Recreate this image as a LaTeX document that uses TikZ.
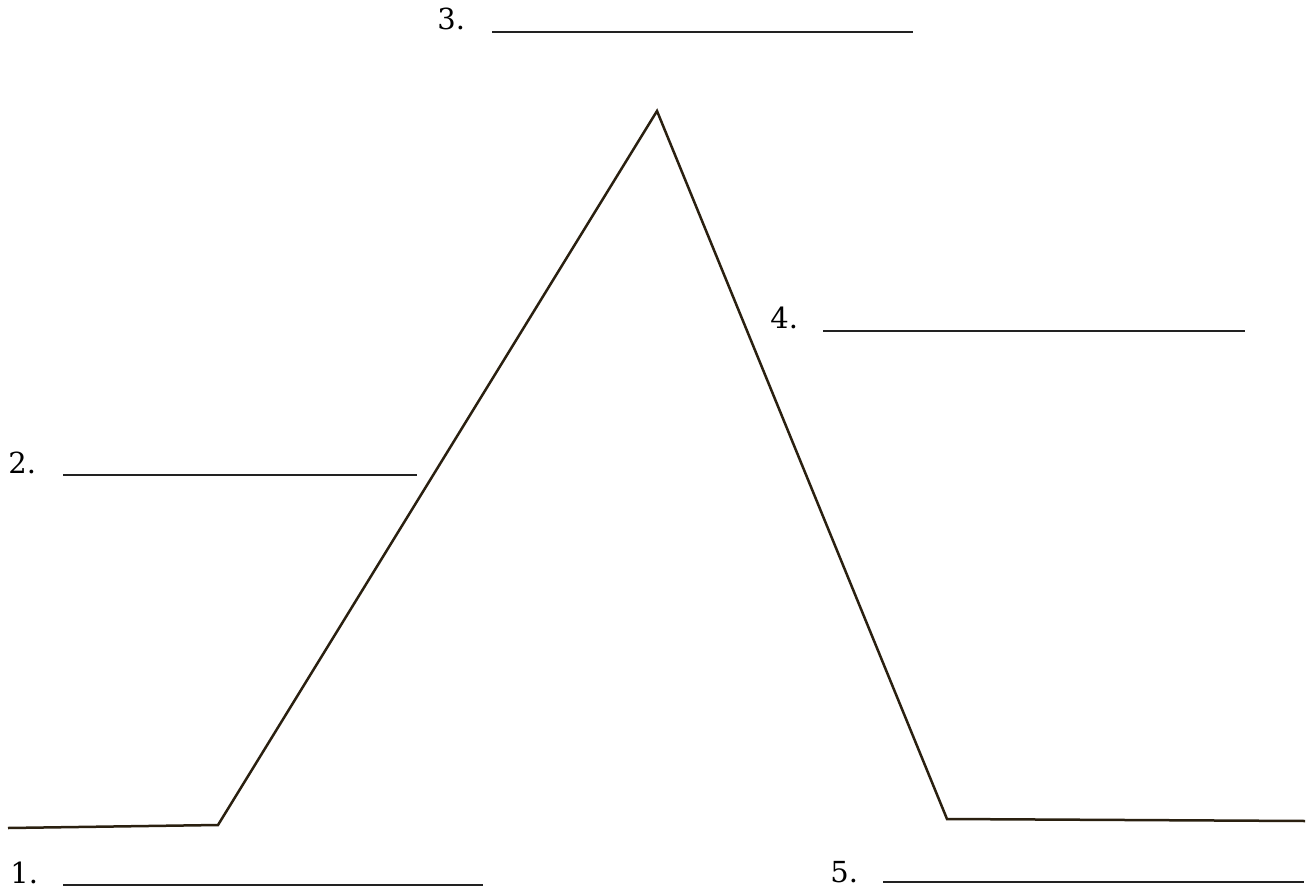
\documentclass[tikz,border=0pt]{standalone}
\usepackage{fontspec}
\setmainfont{DejaVu Serif}
\definecolor{curve}{HTML}{2A2010}
\definecolor{blank}{HTML}{222222}
\tikzset{
  curveline/.style={draw=curve, line width=1.25pt, line join=miter},
  blankline/.style={draw=blank, line width=0.7pt},
  num/.style={anchor=base west, inner sep=0pt, font=\fontsize{14.5}{17}\selectfont}
}
\begin{document}
\begin{tikzpicture}[x=0.5pt, y=-0.5pt]
\useasboundingbox (0,0) rectangle (1312,888);
% plot curve
\coordinate (p0) at (8,828);
\coordinate (p1) at (218,825);
\coordinate (p2) at (657,111);
\coordinate (p3) at (947,819);
\coordinate (p4) at (1305,821);
\draw[curveline] (p0) -- (p1) -- (p2) -- (p3) -- (p4);
% labels
\node[num] (n3) at (437,30) {3.};
\coordinate (b3a) at (492,32); \coordinate (b3b) at (913,32);
\draw[blankline] (b3a) -- (b3b);
\node[num] (n2) at (8,473) {2.};
\coordinate (b2a) at (63,475); \coordinate (b2b) at (417,475);
\draw[blankline] (b2a) -- (b2b);
\node[num] (n4) at (770,328) {4.};
\coordinate (b4a) at (823,331); \coordinate (b4b) at (1245,331);
\draw[blankline] (b4a) -- (b4b);
\node[num] (n1) at (10,883) {1.};
\coordinate (b1a) at (63,885); \coordinate (b1b) at (483,885);
\draw[blankline] (b1a) -- (b1b);
\node[num] (n5) at (830,882) {5.};
\coordinate (b5a) at (883,882); \coordinate (b5b) at (1304,882);
\draw[blankline] (b5a) -- (b5b);
\end{tikzpicture}
\end{document}
